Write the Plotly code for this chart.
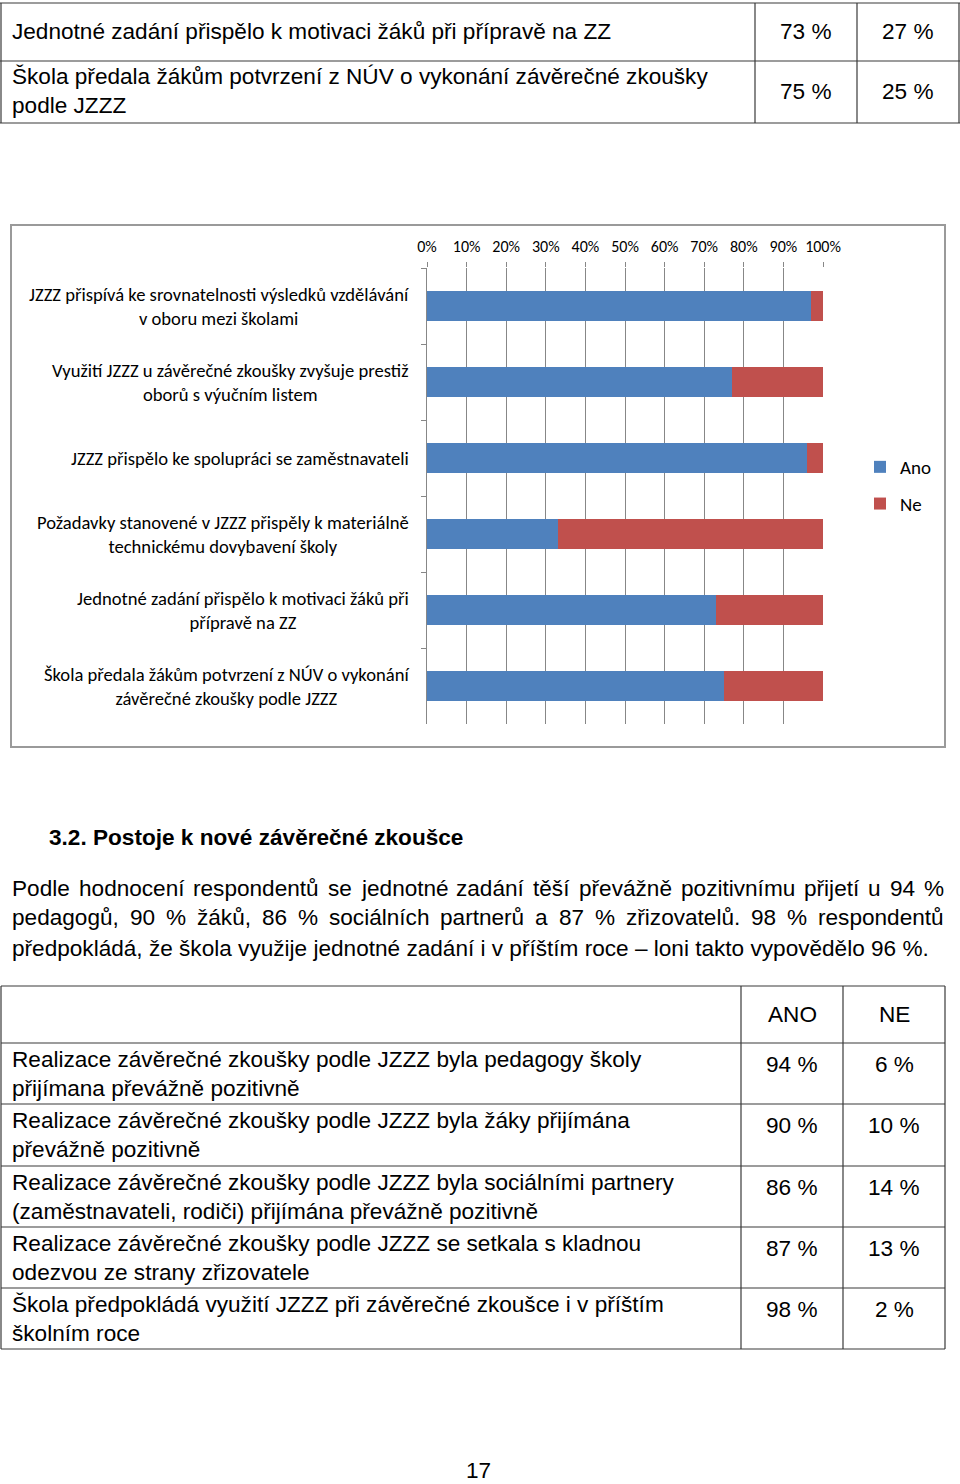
import plotly.graph_objects as go

W, H = 960, 1484

# ---------------- data ----------------
chart_categories = [
    "JZZZ přispívá ke srovnatelnosti výsledků vzdělávání<br>v oboru mezi školami",
    "Využití JZZZ u závěrečné zkoušky zvyšuje prestiž<br>oborů s výučním listem",
    "JZZZ přispělo ke spolupráci se zaměstnavateli",
    "Požadavky stanovené v JZZZ přispěly k materiálně<br>technickému dovybavení školy",
    "Jednotné zadání přispělo k motivaci žáků při<br>přípravě na ZZ",
    "Škola předala žákům potvrzení z NÚV o vykonání<br>závěrečné zkoušky podle JZZZ",
]
ano_values = [97, 77, 96, 33, 73, 75]
ne_values = [3, 23, 4, 67, 27, 25]
series_names = ["Ano", "Ne"]
x_tick_values = [0, 10, 20, 30, 40, 50, 60, 70, 80, 90, 100]
x_tick_labels = ["0%", "10%", "20%", "30%", "40%", "50%", "60%", "70%", "80%", "90%", "100%"]

top_table_labels = [
    "Jednotné zadání přispělo k motivaci žáků při přípravě na ZZ",
    "Škola předala žákům potvrzení z NÚV o vykonání závěrečné zkoušky<br>podle JZZZ",
]
top_table_ano = [73, 75]
top_table_ne = [27, 25]

bottom_table_header = ["ANO", "NE"]
bottom_table_labels = [
    "Realizace závěrečné zkoušky podle JZZZ byla pedagogy školy<br>přijímana převážně pozitivně",
    "Realizace závěrečné zkoušky podle JZZZ byla žáky přijímána<br>převážně pozitivně",
    "Realizace závěrečné zkoušky podle JZZZ byla sociálními partnery<br>(zaměstnavateli, rodiči) přijímána převážně pozitivně",
    "Realizace závěrečné zkoušky podle JZZZ se setkala s kladnou<br>odezvou ze strany zřizovatele",
    "Škola předpokládá využití JZZZ při závěrečné zkoušce i v příštím<br>školním roce",
]
bottom_table_ano = [94, 90, 86, 87, 98]
bottom_table_ne = [6, 10, 14, 13, 2]

heading = "3.2. Postoje k nové závěrečné zkoušce"
paragraph_justified = [
    "Podle hodnocení respondentů se jednotné zadání těší převážně pozitivnímu přijetí u 94 %",
    "pedagogů, 90 % žáků, 86 % sociálních partnerů a 87 % zřizovatelů. 98 % respondentů",
]
paragraph_last = "předpokládá, že škola využije jednotné zadání i v příštím roce – loni takto vypovědělo 96 %."
page_number = "17"

# ---------------- styles ----------------
ARIAL_FONT = "Liberation Sans, Arial, sans-serif"
CAL_FONT = "Carlito, Calibri, Lato, sans-serif"
TXT = 22.6
BLUE = "#4F81BD"
RED = "#C0504D"
GRID = "#878787"
TABLE_LINE = "#3a3a3a"

def px(x):
    return x / W

def py(y):
    return 1 - y / H

# Arial advance widths (1/1000 em) used to justify the paragraph lines
ARIAL_W = {" ": 278, ",": 278, ".": 278, "%": 889, "-": 333, "–": 556,
           "P": 667, "o": 556, "d": 556, "l": 222, "e": 556, "h": 556, "n": 556,
           "c": 500, "í": 278, "r": 333, "s": 500, "p": 556, "t": 278, "ů": 556,
           "j": 222, "é": 556, "z": 500, "a": 556, "á": 556, "ě": 556, "š": 500,
           "ř": 333, "v": 500, "ž": 500, "i": 222, "m": 833, "u": 556, "g": 556,
           "k": 500, "y": 500}
for dch in "0123456789":
    ARIAL_W[dch] = 556

def tw(s, size):
    return sum(ARIAL_W.get(ch, 556) for ch in s) * size / 1000.0

fig = go.Figure()

# ---------------- chart ----------------
fig.add_trace(go.Bar(
    y=chart_categories, x=ano_values, name=series_names[0], orientation="h",
    marker=dict(color=BLUE, line=dict(width=0)), legendgroup="a",
))
fig.add_trace(go.Bar(
    y=chart_categories, x=ne_values, name=series_names[1], orientation="h",
    marker=dict(color=RED, line=dict(width=0)), legendgroup="b",
))

annotations = []
shapes = []

def hline(x0, x1, y, color=TABLE_LINE, width=1.2):
    shapes.append(dict(type="line", xref="paper", yref="paper",
                       x0=px(x0), x1=px(x1), y0=py(y), y1=py(y),
                       line=dict(color=color, width=width)))

def vline(x, y0, y1, color=TABLE_LINE, width=1.2):
    shapes.append(dict(type="line", xref="paper", yref="paper",
                       x0=px(x), x1=px(x), y0=py(y0), y1=py(y1),
                       line=dict(color=color, width=width)))

def text(x, y, s, xanchor="left", size=TXT, family=ARIAL_FONT, bold=False, align="left"):
    if bold:
        s = "<b>" + s + "</b>"
    annotations.append(dict(xref="paper", yref="paper", x=px(x), y=py(y), text=s,
                            showarrow=False, xanchor=xanchor, yanchor="middle",
                            align=align, font=dict(family=family, size=size, color="black")))

# category labels: block right-aligned at the axis, lines centred in the block
for cat in chart_categories:
    annotations.append(dict(xref="paper", yref="y", x=px(411), y=cat,
                            text=cat, showarrow=False, xanchor="right",
                            yanchor="middle", align="center",
                            font=dict(family=CAL_FONT, size=18.6, color="black")))

# chart frame
shapes.append(dict(type="rect", xref="paper", yref="paper",
                   x0=px(11), x1=px(945), y0=py(747), y1=py(225),
                   line=dict(color="#9a9a9a", width=2), fillcolor="rgba(0,0,0,0)", layer="below"))

# ---------------- top table ----------------
hline(0, 960, 3)
hline(0, 960, 61)
hline(0, 960, 123)
vline(1, 3, 123)
vline(959, 3, 123)
vline(755, 3, 123)
vline(857, 3, 123)
top_rows_y = [(31, 31), (91, 91)]
for i, lab in enumerate(top_table_labels):
    ly, vy = top_rows_y[i]
    text(10, ly, lab)
    text(806, vy, f"{top_table_ano[i]} %", xanchor="center", align="center")
    text(908, vy, f"{top_table_ne[i]} %", xanchor="center", align="center")

# ---------------- heading + paragraph ----------------
text(47, 837, heading, bold=True)
para_y = [888, 918]
for ln, yy in zip(paragraph_justified, para_y):
    words = ln.split(" ")
    total = sum(tw(w, TXT) for w in words)
    gap = (944 - 12 - total) / (len(words) - 1)
    x = 12
    for w in words:
        text(x - 2, yy, w)
        x += tw(w, TXT) + gap
text(10, 948, paragraph_last)

# ---------------- bottom table ----------------
row_edges = [986, 1043, 1104, 1166, 1227, 1288, 1349]
for yy in row_edges:
    hline(1, 945, yy)
vline(1, 986, 1349)
vline(945, 986, 1349)
vline(741, 986, 1349)
vline(843, 986, 1349)
text(792, 1014, bottom_table_header[0], xanchor="center", align="center")
text(894, 1014, bottom_table_header[1], xanchor="center", align="center")
for i, lab in enumerate(bottom_table_labels):
    top = row_edges[i + 1]
    text(10, top + 31, lab)
    text(792, top + 21, f"{bottom_table_ano[i]} %", xanchor="center", align="center")
    text(894, top + 21, f"{bottom_table_ne[i]} %", xanchor="center", align="center")

# page number
text(478, 1470, page_number, xanchor="center", align="center")

fig.update_layout(
    width=W, height=H, autosize=False,
    margin=dict(l=0, r=0, t=0, b=0, pad=0, autoexpand=False),
    paper_bgcolor="white", plot_bgcolor="white",
    barmode="stack", bargap=0.614,
    showlegend=True,
    legend=dict(xref="container", yref="container",
                x=px(860), y=py(448), xanchor="left", yanchor="top",
                traceorder="grouped", tracegroupgap=9,
                font=dict(family=CAL_FONT, size=19, color="black"),
                bgcolor="rgba(0,0,0,0)", borderwidth=0),
    xaxis=dict(domain=[px(427), px(823)], range=[0, 100], side="top",
               tickmode="array", tickvals=x_tick_values, ticktext=x_tick_labels,
               showgrid=True, gridcolor=GRID, gridwidth=1.4,
               ticks="outside", ticklen=5, tickcolor=GRID, tickwidth=1.4,
               ticklabelstandoff=4,
               showline=False, zeroline=False, fixedrange=True, automargin=False,
               tickfont=dict(family=CAL_FONT, size=16, color="black")),
    yaxis=dict(domain=[py(724), py(268)], type="category", autorange="reversed",
               showticklabels=False, ticks="outside", tickson="boundaries",
               ticklen=5, tickcolor=GRID, tickwidth=1.4,
               showline=True, linecolor=GRID, linewidth=1.4, automargin=False,
               showgrid=False, zeroline=False, fixedrange=True),
    annotations=annotations,
    shapes=shapes,
)

fig.write_html(
    "out.html",
    config={"displayModeBar": False, "responsive": False},
    post_script="document.body.style.margin='0';document.body.style.overflow='hidden';",
)
